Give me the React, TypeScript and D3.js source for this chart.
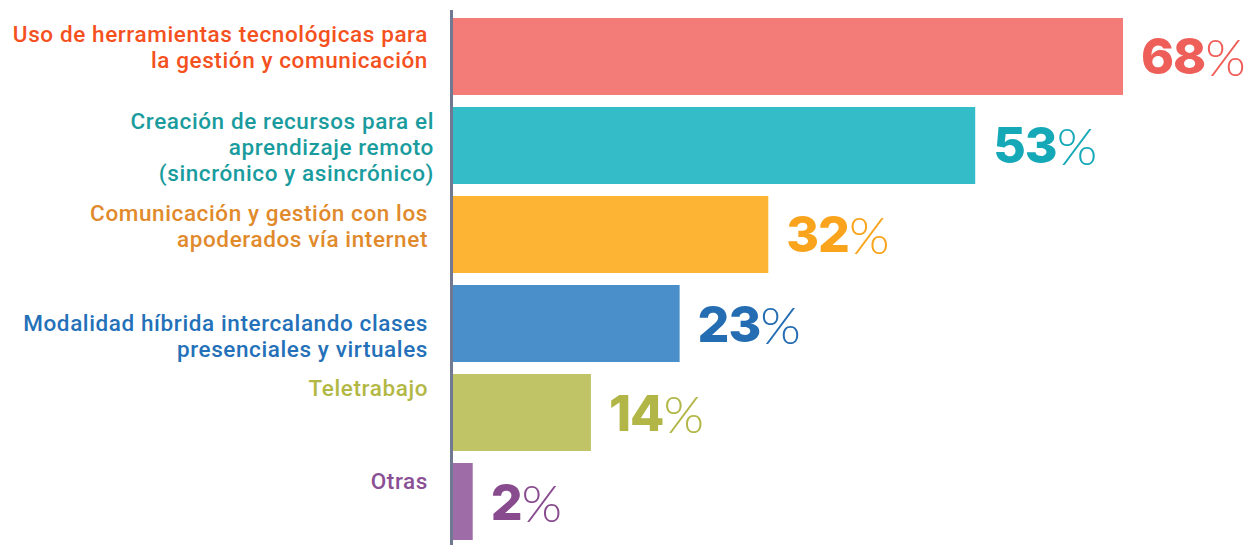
import React from "react";
import * as d3 from "d3";

const categories: string[][] = [
  ["Uso de herramientas tecnológicas para", "la gestión y comunicación"],
  ["Creación de recursos para el", "aprendizaje remoto", "(sincrónico y asincrónico)"],
  ["Comunicación y gestión con los", "apoderados vía internet"],
  ["Modalidad híbrida intercalando clases", "presenciales y virtuales"],
  ["Teletrabajo"],
  ["Otras"],
];
const values: number[] = [68, 53, 32, 23, 14, 2];

const barColors = ["#f47c78", "#34bdc9", "#fdb333", "#4a8fc9", "#c0c466", "#9e6ca6"];
const valueColors = ["#ef5f5a", "#15a9b8", "#f9a41c", "#246db3", "#b1b646", "#884b8e"];
const labelColors = ["#f4511e", "#1a9c9e", "#e08a2c", "#2471b9", "#b3b845", "#8a4f94"];
// first-baseline offset from bar top, and right-edge nudges (layout)
const labelBaseOffset = [24, 22, 25, 46, 22, 26];
const labelRightNudge = [0, 6, 0, 0, 0, 0];

export default function App() {
  const W = 1255, H = 545;
  const axisX = 451.5;
  const x = d3.scaleLinear().domain([0, 68]).range([453, 1123]);
  const idx = d3.range(values.length).map(String);
  const y = d3.scaleBand<string>().domain(idx).range([18, 540]).paddingInner(0.135).paddingOuter(0);
  const lineH = 26;
  const labelRight = 428;

  return (
    <svg width={W} height={H} style={{ position: "absolute", left: 0, top: 0, background: "#fff" }}>
      {values.map((v, i) => {
        const y0 = y(String(i))!;
        const bw = y.bandwidth();
        return (
          <g key={i}>
            <rect x={x(0)} y={y0} width={x(v) - x(0)} height={bw} fill={barColors[i]} />
            <text
              x={x(v) + 18}
              y={y0 + bw / 2}
              dominantBaseline="central"
              fill={valueColors[i]}
              style={{ fontFamily: "Inter, 'Open Sans', sans-serif", fontSize: 50, fontWeight: 800, letterSpacing: -1 }}
            >
              {v}
              <tspan style={{ fontFamily: "Lato, 'Open Sans', sans-serif", fontWeight: 300, fontSize: 52 }} dx={0}>%</tspan>
            </text>
            <text
              textAnchor="end"
              fill={labelColors[i]}
              style={{ fontFamily: "Roboto, sans-serif", fontSize: 22.5, fontWeight: 500, letterSpacing: 0.6 }}
            >
              {categories[i].map((line, j) => (
                <tspan key={j} x={labelRight + labelRightNudge[i]} y={y0 + labelBaseOffset[i] + j * lineH}>
                  {line}
                </tspan>
              ))}
            </text>
          </g>
        );
      })}
      <line x1={axisX} x2={axisX} y1={10} y2={H} stroke="#717892" strokeWidth={3} />
    </svg>
  );
}
